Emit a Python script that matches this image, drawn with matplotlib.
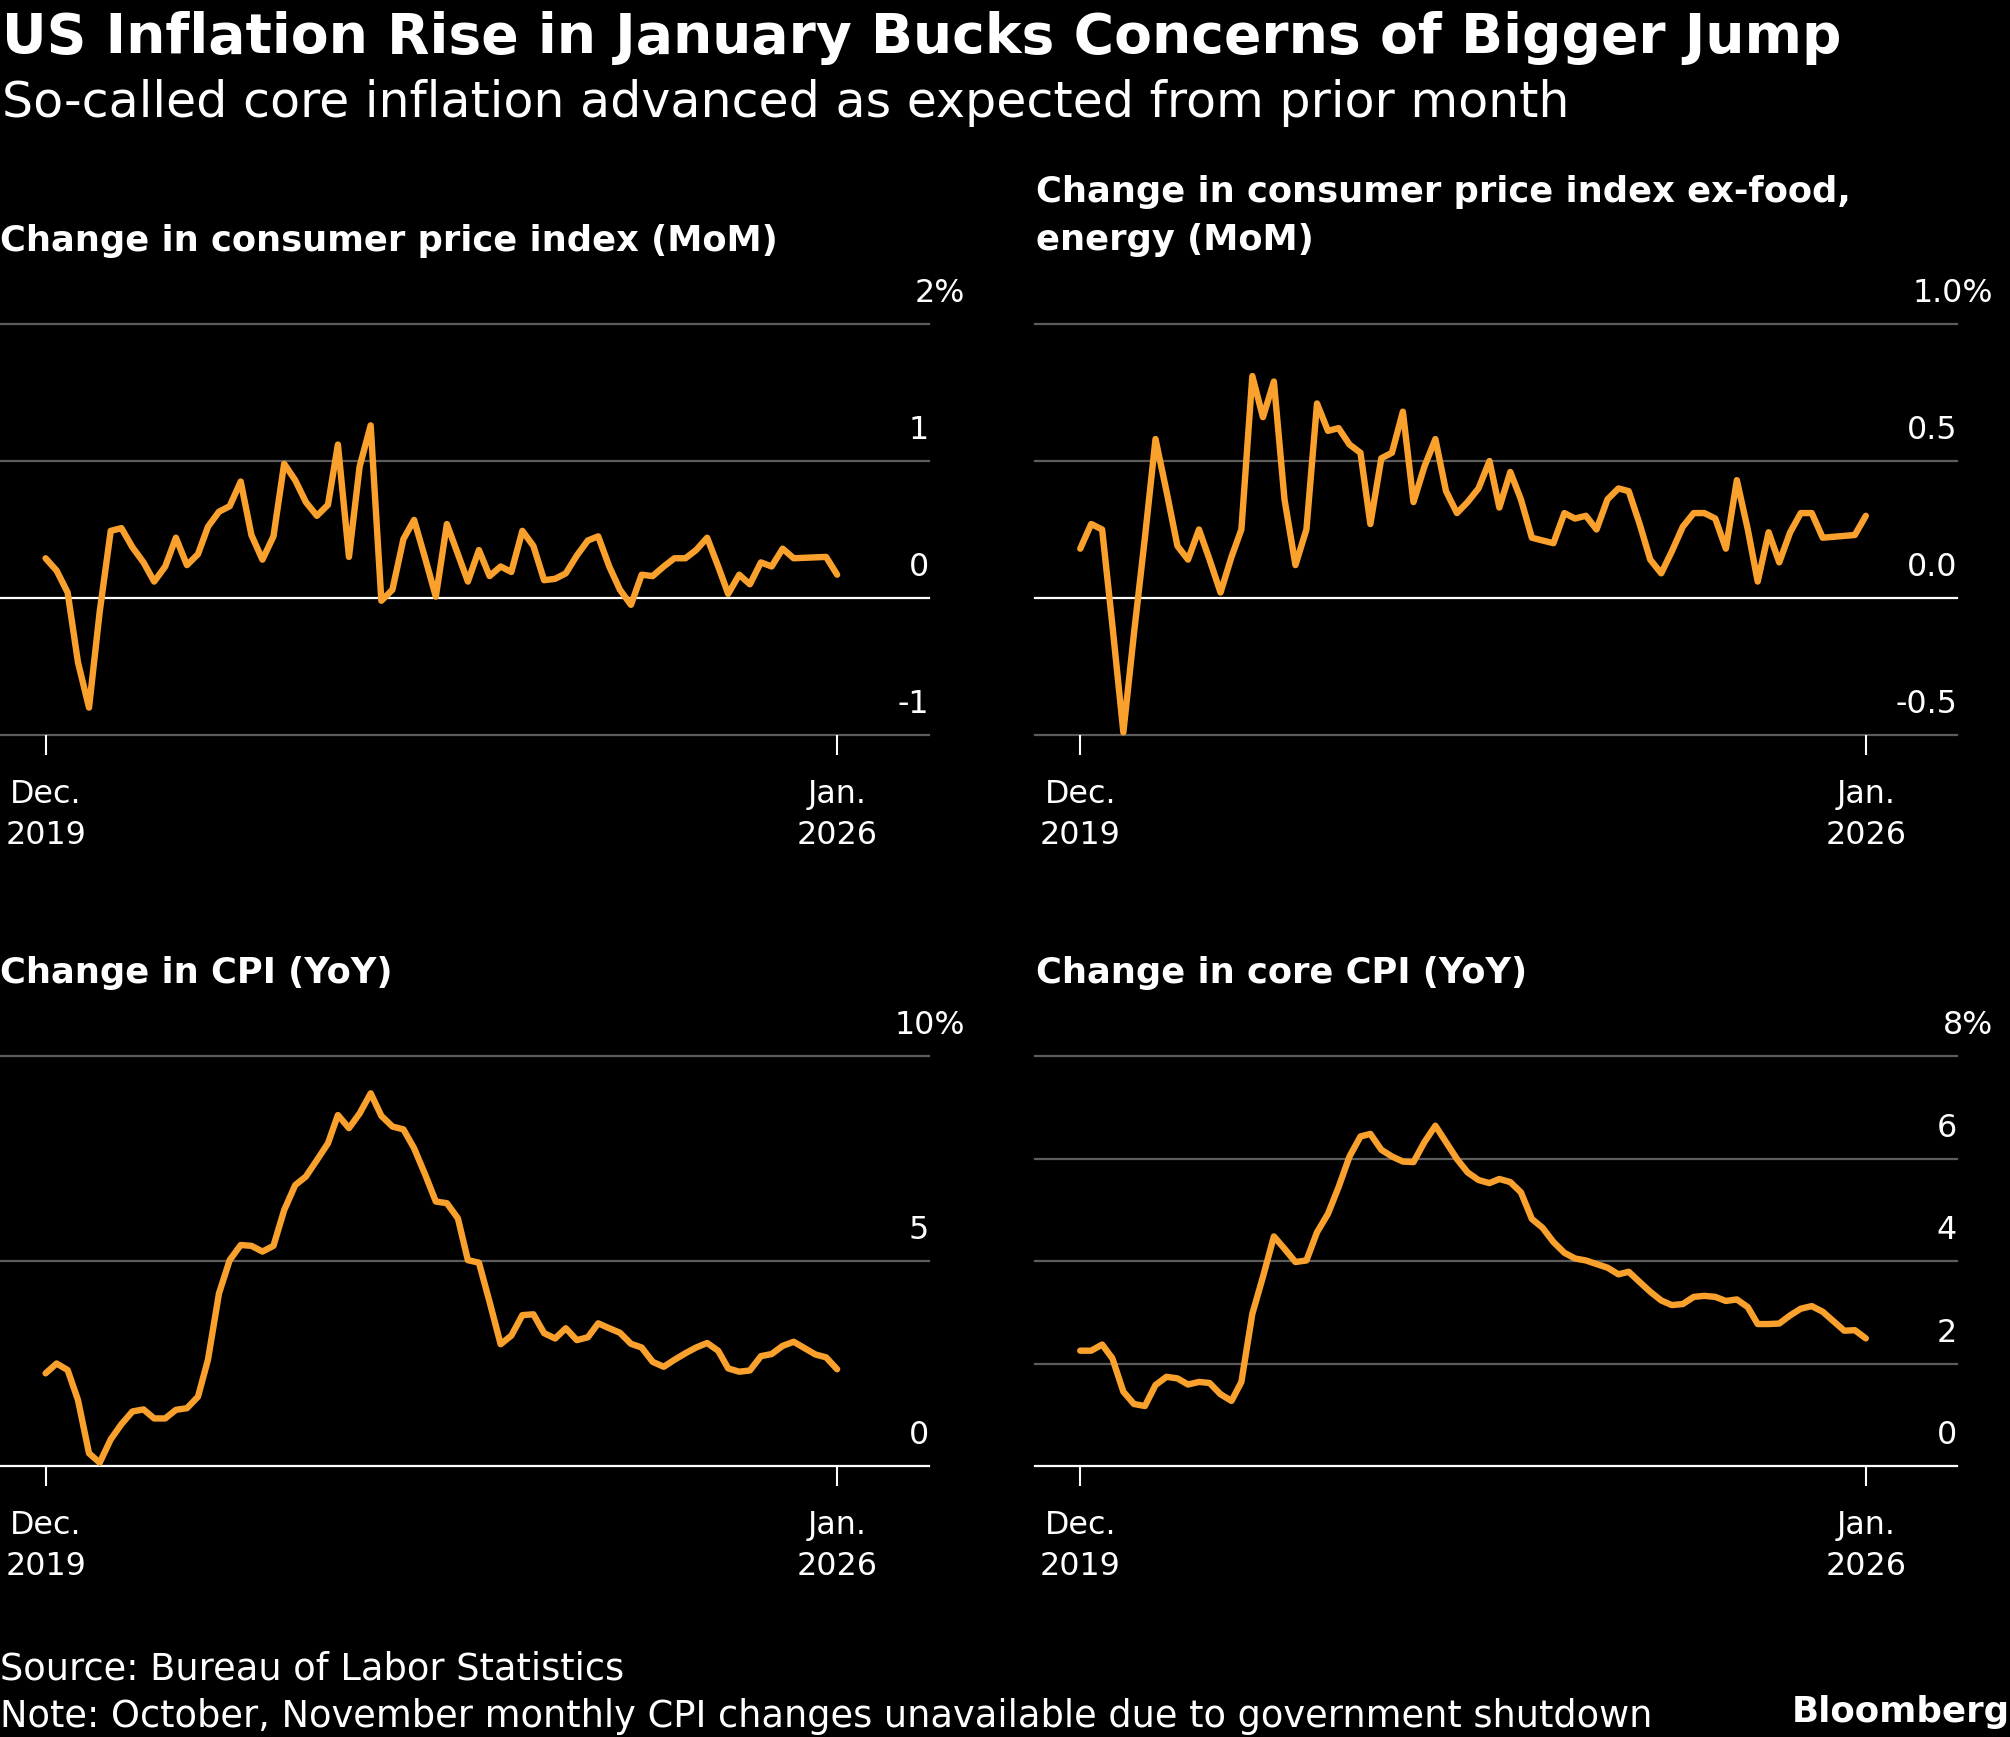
import matplotlib
matplotlib.use('Agg')
import matplotlib.pyplot as plt
import matplotlib.transforms as mtransforms
from matplotlib import font_manager
from matplotlib.textpath import TextPath
import pandas as pd

W, H = 2010, 1737
ORANGE = '#F9A12C'
GRID = '#5c5c5c'

installed = {f.name for f in font_manager.fontManager.ttflist}
FONT = next((f for f in ['Liberation Sans Narrow', 'DejaVu Sans Condensed', 'DejaVu Sans']
             if f in installed), 'DejaVu Sans')
plt.rcParams['font.family'] = FONT

# monthly data, Dec 2019 .. Jan 2026
months = pd.date_range('2019-12-01', '2026-01-01', freq='MS')
mom_dates = months.drop(pd.to_datetime(['2025-10-01', '2025-11-01']))
yoy_dates = months.drop(pd.to_datetime(['2025-10-01']))

cpi_mom = [0.29, 0.20, 0.04, -0.47, -0.80, -0.10, 0.49, 0.51, 0.37, 0.26, 0.12, 0.23,
           0.44, 0.24, 0.32, 0.52, 0.63, 0.67, 0.85, 0.46, 0.28, 0.45, 0.98, 0.86,
           0.70, 0.60, 0.68, 1.12, 0.30, 0.96, 1.26, -0.02, 0.06, 0.43, 0.57, 0.29,
           0.01, 0.54, 0.32, 0.12, 0.35, 0.16, 0.23, 0.19, 0.49, 0.38, 0.13, 0.14,
           0.18, 0.31, 0.42, 0.45, 0.23, 0.06, -0.05, 0.17, 0.16, 0.23, 0.29, 0.29,
           0.35, 0.44, 0.23, 0.03, 0.17, 0.10, 0.26, 0.23, 0.36, 0.29,
           0.30, 0.17]
core_mom = [0.18, 0.27, 0.25, -0.10, -0.49, -0.13, 0.22, 0.58, 0.39, 0.19, 0.14, 0.25,
            0.14, 0.02, 0.15, 0.25, 0.81, 0.66, 0.79, 0.36, 0.12, 0.25, 0.71, 0.61,
            0.62, 0.56, 0.53, 0.27, 0.51, 0.53, 0.68, 0.35, 0.48, 0.58, 0.39, 0.31,
            0.35, 0.40, 0.50, 0.33, 0.46, 0.36, 0.22, 0.21, 0.20, 0.31, 0.29, 0.30,
            0.25, 0.36, 0.40, 0.39, 0.27, 0.14, 0.09, 0.17, 0.26, 0.31, 0.31, 0.29,
            0.18, 0.43, 0.25, 0.06, 0.24, 0.13, 0.24, 0.31, 0.31, 0.22,
            0.23, 0.30]
cpi_yoy = [2.26, 2.50, 2.34, 1.61, 0.31, 0.08, 0.65, 1.02, 1.33, 1.38, 1.16, 1.16,
           1.37, 1.41, 1.69, 2.59, 4.21, 5.02, 5.39, 5.37, 5.23, 5.37, 6.24, 6.85,
           7.06, 7.46, 7.87, 8.56, 8.24, 8.60, 9.09, 8.54, 8.28, 8.21, 7.75, 7.11,
           6.45, 6.41, 6.04, 5.02, 4.96, 4.00, 2.97, 3.18, 3.68, 3.70, 3.24, 3.11,
           3.36, 3.07, 3.14, 3.48, 3.36, 3.25, 2.98, 2.89, 2.54, 2.42, 2.59, 2.75,
           2.89, 3.00, 2.81, 2.38, 2.30, 2.33, 2.68, 2.73, 2.93, 3.03,
           2.72, 2.65, 2.36]
core_yoy = [2.25, 2.25, 2.37, 2.10, 1.45, 1.21, 1.17, 1.58, 1.74, 1.71, 1.59, 1.64,
            1.62, 1.40, 1.27, 1.64, 2.97, 3.69, 4.48, 4.24, 3.98, 4.01, 4.56, 4.92,
            5.44, 6.04, 6.43, 6.48, 6.17, 6.04, 5.94, 5.93, 6.32, 6.64, 6.32, 5.99,
            5.73, 5.58, 5.52, 5.60, 5.54, 5.34, 4.82, 4.65, 4.37, 4.16, 4.05, 4.01,
            3.94, 3.87, 3.74, 3.79, 3.59, 3.40, 3.23, 3.14, 3.16, 3.30, 3.32, 3.30,
            3.22, 3.25, 3.10, 2.77, 2.77, 2.78, 2.94, 3.07, 3.12, 3.01,
            2.64, 2.65, 2.49]

title = 'US Inflation Rise in January Bucks Concerns of Bigger Jump'
subtitle = 'So-called core inflation advanced as expected from prior month'
panel_titles = ['Change in consumer price index (MoM)',
                'Change in consumer price index ex-food,\nenergy (MoM)',
                'Change in CPI (YoY)',
                'Change in core CPI (YoY)']
source = 'Source: Bureau of Labor Statistics'
note = 'Note: October, November monthly CPI changes unavailable due to government shutdown'
xlabels = ['Dec.\n2019', 'Jan.\n2026']

fig = plt.figure(figsize=(W / 100, H / 100), dpi=100, facecolor='black')
renderer = fig.canvas.get_renderer()


def fit(s, width, cap, weight='normal'):
    # font size that gives the text the reference width, capped by its cap height
    t = fig.text(0, 0, s, fontsize=20, fontweight=weight)
    w = t.get_window_extent(renderer).width
    t.remove()
    fp = font_manager.FontProperties(family=FONT, weight=weight, size=20)
    ch = TextPath((0, 0), 'H', prop=fp).get_extents().height * 100 / 72
    return min(20 * width / w, 20 * cap / ch)


TITLE = fit(title, 1840, 41, 'bold')
SUB = fit(subtitle, 1564, 40)
PANEL = fit(panel_titles[0], 778, 34, 'bold')
FOOT = fit(note, 1654, 30)
BRAND = fit('Bloomberg', 218, 27, 'bold')
TICK = fit('2019', 81, 27)


def put(x, y, s, size, weight='normal', ha='left'):
    fig.text(x / W, 1 - y / H, s, fontsize=size, fontweight=weight,
             color='white', ha=ha, va='baseline')


put(2, 53, title, TITLE, 'bold')
put(2, 117, subtitle, SUB)
put(0, 251, panel_titles[0], PANEL, 'bold')
l1, l2 = panel_titles[1].split('\n')
put(1036, 202, l1, PANEL, 'bold')
put(1036, 250, l2, PANEL, 'bold')
put(0, 983, panel_titles[2], PANEL, 'bold')
put(1036, 983, panel_titles[3], PANEL, 'bold')
put(0, 1680, source, FOOT)
put(0, 1727, note, FOOT)
put(2010, 1722, 'Bloomberg', BRAND, 'bold', ha='right')

x0 = months[0] - pd.Timedelta(days=128)
x1 = months[-1] + pd.Timedelta(days=258)


def panel(rect, dates, values, ticks, labels):
    l, t, r, b = rect
    ax = fig.add_axes([l / W, 1 - b / H, (r - l) / W, (b - t) / H])
    ax.set_facecolor('black')
    for s in ax.spines.values():
        s.set_visible(False)
    for v in ticks:
        ax.axhline(v, color='white' if v == 0 else GRID, lw=1.6, zorder=1, clip_on=False)
    ax.plot(dates, values, color=ORANGE, lw=4.6, solid_joinstyle='round',
            solid_capstyle='round', zorder=3, clip_on=False)
    ax.set_xlim(x0, x1)
    ax.set_ylim(ticks[0], ticks[-1])
    ax.set_yticks([])
    ax.set_xticks([months[0], months[-1]])
    ax.set_xticklabels(xlabels)
    ax.tick_params(axis='x', colors='white', length=14.4, width=1.5, pad=17,
                   labelsize=TICK)
    for lbl in ax.get_xticklabels():
        lbl.set_linespacing(1.45)
    trans = mtransforms.blended_transform_factory(ax.transAxes, ax.transData)
    for v, lab in zip(ticks, labels):
        dx = 26 if lab.endswith('%') else 0
        ax.annotate(lab, (1, v), xycoords=trans, xytext=(dx, 15.5),
                    textcoords='offset points', ha='right', va='baseline',
                    color='white', fontsize=TICK)
    return ax


panel((0, 324, 929, 735), mom_dates, cpi_mom, [-1, 0, 1, 2], ['-1', '0', '1', '2%'])
panel((1035, 324, 1957, 735), mom_dates, core_mom, [-0.5, 0, 0.5, 1.0],
      ['-0.5', '0.0', '0.5', '1.0%'])
panel((0, 1056, 929, 1466), yoy_dates, cpi_yoy, [0, 5, 10], ['0', '5', '10%'])
panel((1035, 1056, 1957, 1466), yoy_dates, core_yoy, [0, 2, 4, 6, 8],
      ['0', '2', '4', '6', '8%'])

fig.savefig('out.png', dpi=100, facecolor='black')
